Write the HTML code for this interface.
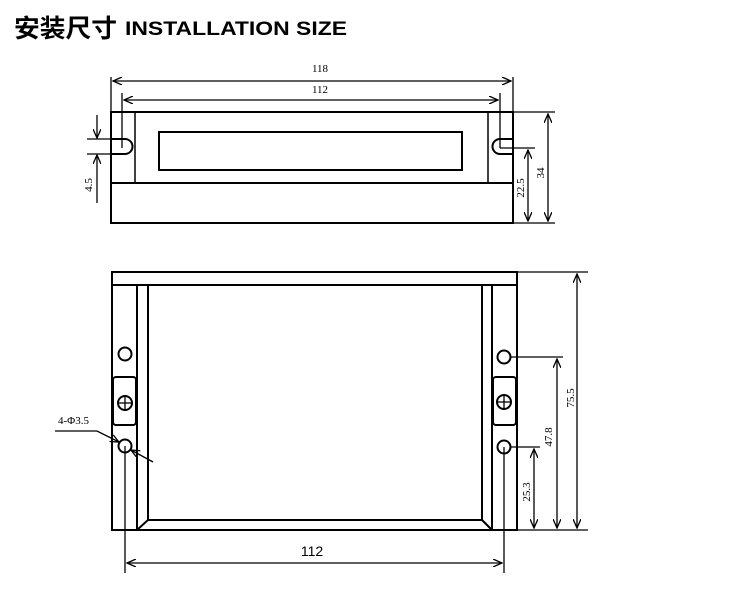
<!DOCTYPE html>
<html><head><meta charset="utf-8"><style>
html,body{margin:0;padding:0;background:#fff;}
svg{display:block;}
</style></head><body>
<svg width="750" height="600" viewBox="0 0 750 600" xmlns="http://www.w3.org/2000/svg">
<defs>
<marker id="a" markerWidth="10" markerHeight="8" refX="9" refY="4" orient="auto-start-reverse" markerUnits="userSpaceOnUse">
<path d="M0,0 L9,4 L0,8" fill="none" stroke="#000" stroke-width="1.3"/>
</marker>
</defs>
<text x="14" y="37" font-family="'Noto Sans CJK SC','WenQuanYi Zen Hei',sans-serif" font-weight="bold" font-size="25" textLength="103" lengthAdjust="spacingAndGlyphs">安装尺寸</text>
<text x="125" y="35" font-family="'Liberation Sans',sans-serif" font-weight="bold" font-size="19" textLength="222" lengthAdjust="spacingAndGlyphs">INSTALLATION SIZE</text>

<g fill="none" stroke="#000" stroke-width="2">
<rect x="111" y="112" width="402" height="111"/>
<line x1="111" y1="183" x2="513" y2="183"/>
<line x1="135" y1="112" x2="135" y2="183" stroke-width="1.5"/>
<line x1="488" y1="112" x2="488" y2="183" stroke-width="1.5"/>
<rect x="159" y="132" width="303" height="38"/>
<path d="M111,139 H125 A7.5,7.5 0 0 1 125,154 H111"/>
<path d="M513,139 H500 A7.5,7.5 0 0 0 500,154 H513"/>
</g>
<g fill="none" stroke="#000" stroke-width="1.3">
<line x1="111" y1="77" x2="111" y2="112"/>
<line x1="513" y1="77" x2="513" y2="112"/>
<line x1="113" y1="81" x2="511" y2="81" marker-start="url(#a)" marker-end="url(#a)"/>
<line x1="122" y1="93" x2="122" y2="148"/>
<line x1="500" y1="93" x2="500" y2="148"/>
<line x1="124" y1="100" x2="498" y2="100" marker-start="url(#a)" marker-end="url(#a)"/>
<line x1="500" y1="148" x2="535" y2="148"/>
<line x1="513" y1="112" x2="555" y2="112"/>
<line x1="513" y1="223" x2="555" y2="223"/>
<line x1="548" y1="114" x2="548" y2="221" marker-start="url(#a)" marker-end="url(#a)"/>
<line x1="528" y1="150" x2="528" y2="221" marker-start="url(#a)" marker-end="url(#a)"/>
<line x1="87" y1="139" x2="111" y2="139"/>
<line x1="87" y1="154" x2="111" y2="154"/>
<line x1="97" y1="115" x2="97" y2="138" marker-end="url(#a)"/>
<line x1="97" y1="203" x2="97" y2="155" marker-end="url(#a)"/>
</g>
<g font-family="'Liberation Serif',serif" font-size="11" fill="#000">
<text x="320" y="72" text-anchor="middle">118</text>
<text x="320" y="93" text-anchor="middle">112</text>
<text transform="translate(544,173) rotate(-90)" text-anchor="middle">34</text>
<text transform="translate(524,188) rotate(-90)" text-anchor="middle">22.5</text>
<text transform="translate(92,185) rotate(-90)" text-anchor="middle">4.5</text>
<text x="58" y="424">4-Φ3.5</text>
<text transform="translate(574,398) rotate(-90)" text-anchor="middle">75.5</text>
<text transform="translate(552,437) rotate(-90)" text-anchor="middle">47.8</text>
<text transform="translate(530,492) rotate(-90)" text-anchor="middle">25.3</text>
</g>

<g fill="none" stroke="#000" stroke-width="2">
<rect x="112" y="272" width="405" height="258"/>
<line x1="112" y1="285" x2="517" y2="285"/>
<line x1="137" y1="285" x2="137" y2="530"/>
<line x1="492" y1="285" x2="492" y2="530"/>
<path d="M148,285 V520 H482 V285"/>
<line x1="137" y1="530" x2="148" y2="520"/>
<line x1="492" y1="530" x2="482" y2="520"/>
<circle cx="125" cy="354" r="6.5"/>
<circle cx="125" cy="446" r="6.5"/>
<circle cx="504" cy="357" r="6.5"/>
<circle cx="504" cy="447" r="6.5"/>
<rect x="113" y="377" width="23" height="48" rx="3"/>
<rect x="493" y="377" width="23" height="48" rx="3"/>
<circle cx="125" cy="403" r="7"/>
<circle cx="504" cy="402" r="7"/>
</g>
<g fill="none" stroke="#000" stroke-width="1.3">
<line x1="118" y1="403" x2="132" y2="403"/><line x1="125" y1="396" x2="125" y2="410"/>
<line x1="497" y1="402" x2="511" y2="402"/><line x1="504" y1="395" x2="504" y2="409"/>
<line x1="125" y1="446" x2="125" y2="573"/>
<line x1="504" y1="447" x2="504" y2="573"/>
<line x1="127" y1="563" x2="502" y2="563" marker-start="url(#a)" marker-end="url(#a)"/>
<line x1="517" y1="272" x2="588" y2="272"/>
<line x1="517" y1="530" x2="588" y2="530"/>
<line x1="577" y1="274" x2="577" y2="528" marker-start="url(#a)" marker-end="url(#a)"/>
<line x1="511" y1="357" x2="563" y2="357"/>
<line x1="557" y1="359" x2="557" y2="528" marker-start="url(#a)" marker-end="url(#a)"/>
<line x1="511" y1="447" x2="540" y2="447"/>
<line x1="534" y1="449" x2="534" y2="528" marker-start="url(#a)" marker-end="url(#a)"/>
<path d="M55,431 H97 L119,442" marker-end="url(#a)"/>
<line x1="153" y1="462" x2="131" y2="450" marker-end="url(#a)"/>
</g>
<text x="312" y="556" text-anchor="middle" font-family="'Liberation Sans',sans-serif" font-size="14">112</text>
</svg>
</body></html>
